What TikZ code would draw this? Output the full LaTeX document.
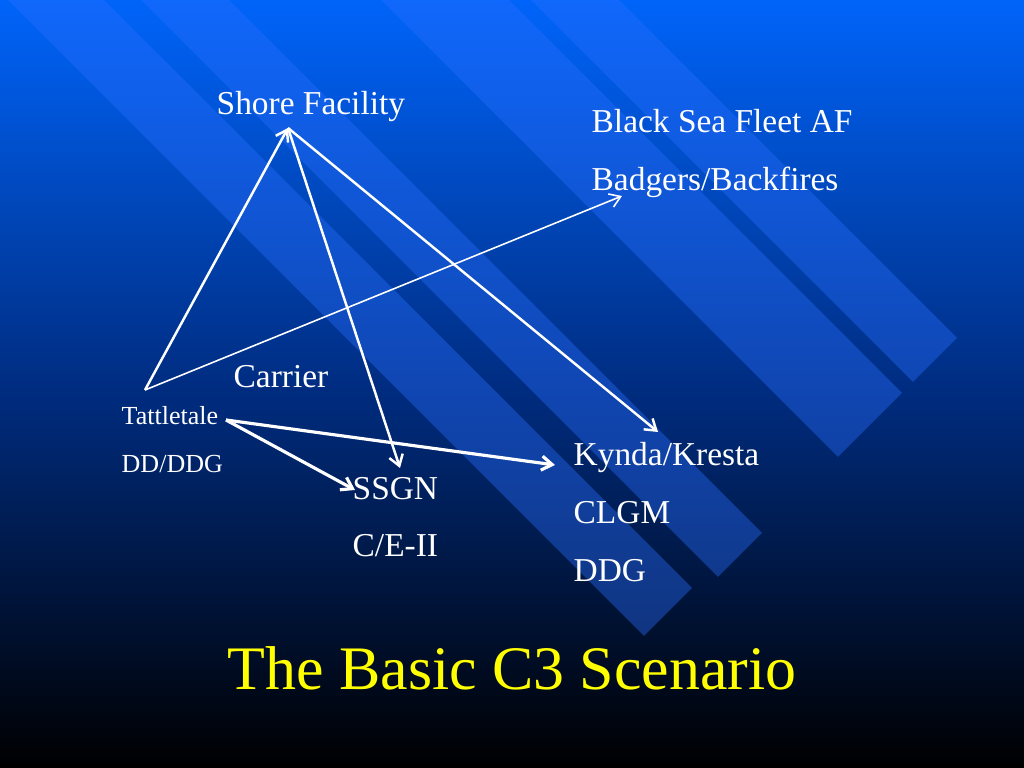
\documentclass[tikz,border=0pt]{standalone}
\usepackage{fontspec}
\setmainfont{Liberation Serif}
\usetikzlibrary{arrows.meta}
\definecolor{topblue}{RGB}{0,100,250}
\definecolor{band}{RGB}{40,110,255}
\tikzset{
  lbl/.style={anchor=base west,text=white,inner sep=0pt,font=\fontsize{9.5pt}{11pt}\selectfont},
  small/.style={lbl,font=\fontsize{7.4pt}{8pt}\selectfont},
  link/.style={draw=white,line width=0.7pt,-{Straight Barb[length=3pt,width=4pt]}},
  thin link/.style={link,line width=0.45pt},
  stripe/.style={fill=band,fill opacity=0.4,draw=none}
}
\begin{document}
\begin{tikzpicture}[x=0.01cm,y=-0.01cm]
  % background
  \shade[top color=topblue,bottom color=black,middle color={rgb,255:red,0;green,45;blue,130}] (0,0) rectangle (1024,768);
  \useasboundingbox (0,0) rectangle (1024,768);
  \begin{scope}
    \clip (0,0) rectangle (1024,768);
    \foreach \ex/\ey/\w in {935/360/22, 870/425/32, 740/555/22, 668/612/24}
      \fill[stripe] (\ex,\ey) ++(\w,-\w) -- ++(-1200,-1200) -- ++(-2*\w,2*\w) -- ++(1200,1200) -- cycle;
  \end{scope}
  % labels
  \node[lbl] (shore) at (216,115) {Shore Facility};
  \node[lbl] (fleet) at (591,133) {Black Sea Fleet AF};
  \node[lbl] (badgers) at (591,191) {Badgers/Backfires};
  \node[lbl] (carrier) at (233,388) {Carrier};
  \node[small] (tattle) at (121,425) {Tattletale};
  \node[small] (dd) at (121,473) {DD/DDG};
  \node[lbl] (ssgn) at (352,500) {SSGN};
  \node[lbl] (ce) at (352,557) {C/E-II};
  \node[lbl] (kynda) at (573,466) {Kynda/Kresta};
  \node[lbl] (clgm) at (573,524) {CLGM};
  \node[lbl] (ddg) at (573,582) {DDG};
  \node[anchor=base,text={rgb,255:red,255;green,255;blue,0},inner sep=0pt,font=\fontsize{17.6pt}{20pt}\selectfont] (title) at (512,690) {The Basic C3 Scenario};
  % connectors
  \coordinate (apex) at (288,128);
  \coordinate (base) at (145,390);
  \coordinate (tail) at (226,420);
  \draw[link] (base) -- (apex);
  \draw[link] (apex) -- (400,468);
  \draw[link] (apex) -- (658,432);
  \draw[thin link] (base) -- (622,196);
  \draw[link,line width=0.9pt] (tail) -- (555,465);
  \draw[link,line width=0.9pt] (tail) -- (355,490);
\end{tikzpicture}
\end{document}
